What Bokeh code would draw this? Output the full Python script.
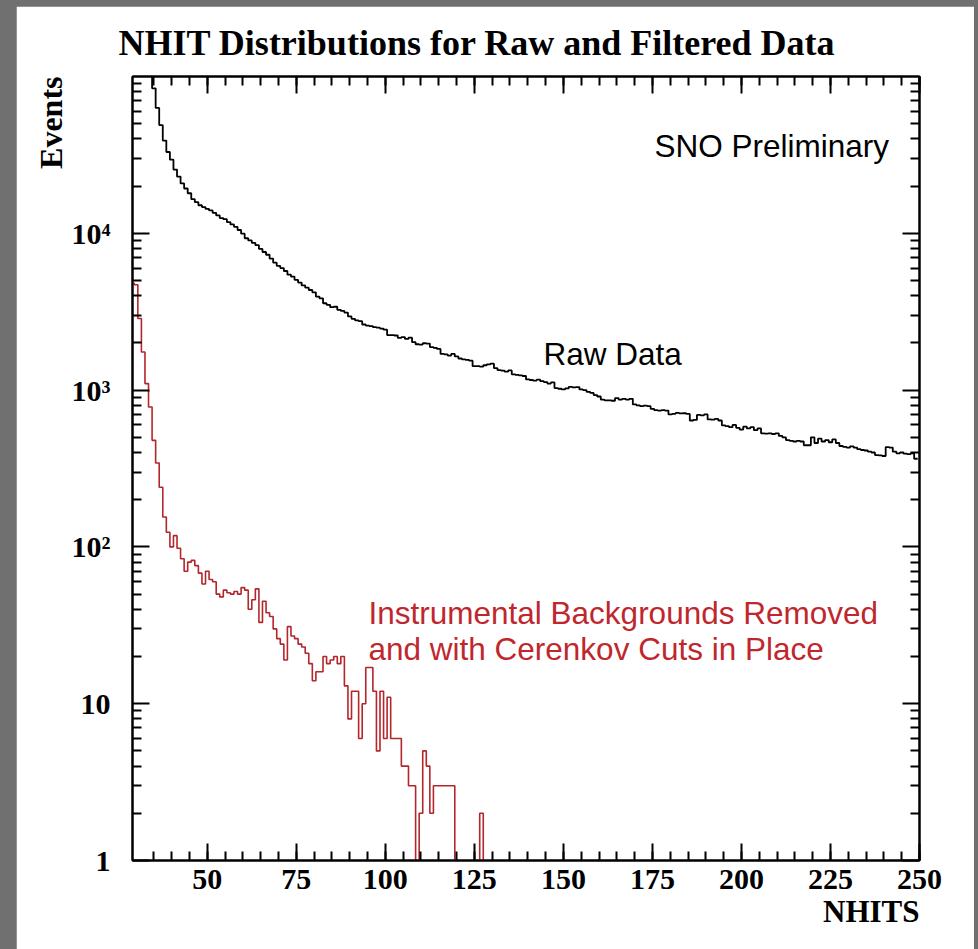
from bokeh.plotting import figure
from bokeh.models import Range1d, FixedTicker, LinearAxis, LogAxis, Label, Title, CustomJSTickFormatter
from bokeh.layouts import column
from bokeh.embed import file_html
from bokeh.resources import INLINE

# ---------------- data ----------------
title_text = "NHIT Distributions for Raw and Filtered Data"
x_label = "NHITS"
y_label = "Events"
raw_label = "Raw Data"
stamp_label = "SNO Preliminary"
filt_label_1 = "Instrumental Backgrounds Removed"
filt_label_2 = "and with Cerenkov Cuts in Place"

# raw data: one bin per NHIT value, first bin centred on NHIT = 34
raw_first_bin = 34
raw_counts = [
    130000, 84000, 63000, 49000, 39000, 33000, 29500, 25500, 23000, 20800,   # 34-43
    19300, 18000, 16500, 15800, 15100, 14700, 14300, 14000, 13500, 13000,    # 44-53
    12500, 12300, 11800, 11400, 11000, 10500, 9950, 9300, 9000, 8700,        # 54-63
    8400, 7950, 7600, 7300, 6900, 6500, 6200, 6000, 5750, 5450,              # 64-73
    5300, 5050, 4850, 4650, 4500, 4350, 4200, 3950, 3850, 3580,              # 74-83
    3500, 3380, 3400, 3250, 3200, 3120, 2950, 2850, 2780, 2750,              # 84-93
    2620, 2580, 2560, 2520, 2500, 2470, 2430, 2240, 2240, 2230,              # 94-103
    2150, 2180, 2120, 2160, 2020, 1960, 1950, 1990, 1980, 1880,              # 104-113
    1860, 1830, 1700, 1690, 1660, 1700, 1640, 1590, 1570, 1560,              # 114-123
    1540, 1420, 1420, 1410, 1440, 1460, 1475, 1380, 1340, 1330,              # 124-133
    1310, 1335, 1260, 1250, 1240, 1230, 1170, 1160, 1150, 1165,              # 134-143
    1140, 1125, 1100, 1120, 1030, 1020, 1010, 1025, 1050, 1040,              # 144-153
    1045, 1010, 1000, 975, 960, 930, 910, 870, 860, 860,                     # 154-163
    855, 890, 870, 880, 870, 880, 810, 800, 790, 795,                        # 164-173
    790, 760, 745, 740, 745, 740, 700, 705, 715, 710,                        # 174-183
    712, 705, 640, 645, 695, 690, 700, 650, 648, 655,                        # 184-193
    640, 595, 590, 580, 600, 575, 560, 585, 570, 580,                        # 194-203
    555, 570, 530, 528, 530, 525, 530, 510, 500, 480,                        # 204-213
    475, 470, 475, 470, 445, 445, 500, 460, 490, 470,                        # 214-223
    480, 465, 485, 460, 440, 435, 430, 438, 430, 420,                        # 224-233
    415, 412, 405, 400, 385, 383, 380, 433, 430, 405,                        # 234-243
    395, 400, 393, 390, 395, 365,                                            # 244-249
]

# filtered data: first bin centred on NHIT = 29
filt_first_bin = 29
filt_counts = [
    4800, 4700, 2860, 1750, 1100, 780, 478, 343, 240, 155,                   # 29-38
    124, 100, 118, 98, 84, 70, 80, 82, 76, 68,                               # 39-48
    58, 70, 62, 60, 50, 48, 53, 51, 50, 52,                                  # 49-58
    50, 55, 53, 40, 46, 54, 33, 45, 38, 36,                                  # 59-68
    30, 26, 24, 19, 31, 27, 26, 24, 23, 21,                                  # 69-78
    18, 14, 16, 16, 20, 18, 19, 20, 18, 20,                                  # 79-88
    13, 8, 12, 12, 6, 10, 17, 17, 12, 5,                                     # 89-98
    12, 6, 11, 6, 6, 6, 4, 4, 3, 3,                                          # 99-108
    0, 2, 5, 4, 2, 3, 3, 3, 3, 3,                                            # 109-118
    3, 0, 0, 0, 0, 0, 0, 0, 2, 0,                                            # 119-128
]

x_major = [50, 75, 100, 125, 150, 175, 200, 225, 250]
y_major = [1, 10, 100, 1000, 10000]
y_major_text = ["1", "10", "10\u00b2", "10\u00b3", "10\u2074"]

# ---------------- style ----------------
RED_LINE = "#b3262b"
RED_TEXT = "#c0272d"
GREY = "#707070"
SERIF = "Liberation Serif"
SANS = "Liberation Sans"
Y_FLOOR = 0.05  # empty bins are drawn below the visible range


def step_arrays(first_bin, counts):
    edges = [first_bin - 0.5 + i for i in range(len(counts) + 1)]
    ys = [max(c, Y_FLOOR) for c in counts]
    ys = ys + [ys[-1]]
    return edges, ys


p = figure(
    width=958, height=943,
    x_range=Range1d(29, 250), y_range=Range1d(1, 1e5),
    y_axis_type="log",
    output_backend="svg", toolbar_location=None,
    min_border_left=116, min_border_right=55,
    min_border_top=70, min_border_bottom=89,
    background_fill_color="white", border_fill_color="white",
)
p.xgrid.visible = False
p.ygrid.visible = False
p.outline_line_color = "black"
p.outline_line_width = 2

# main title
p.title.text = title_text
p.title.align = "left"
p.title.offset = -14
p.title.text_font = SERIF
p.title.text_font_style = "bold"
p.title.text_font_size = "36px"
p.title.text_line_height = 1.0
p.title.text_color = "black"
p.title.standoff = 27

rx, ry = step_arrays(raw_first_bin, raw_counts)
fx, fy = step_arrays(filt_first_bin, filt_counts)
p.step(rx, ry, mode="after", line_color="black", line_width=1.8)
p.step(fx, fy, mode="after", line_color=RED_LINE, line_width=1.6)

x_minor = [v for v in range(35, 251, 5)]
y_minor = [k * 10 ** d for d in range(5) for k in range(2, 10)]

bottom_axis = p.below[0]
left_axis = p.left[0]
top_axis = LinearAxis()
right_axis = LogAxis()
p.add_layout(top_axis, "above")
p.add_layout(right_axis, "right")

for ax in [bottom_axis, top_axis]:
    ax.ticker = FixedTicker(ticks=x_major, minor_ticks=x_minor)
for ax in [left_axis, right_axis]:
    ax.ticker = FixedTicker(ticks=y_major, minor_ticks=y_minor)

for ax in [bottom_axis, top_axis, left_axis, right_axis]:
    ax.major_tick_in = 17
    ax.major_tick_out = 0
    ax.minor_tick_in = 9
    ax.minor_tick_out = 0
    ax.axis_line_width = 2
    ax.major_tick_line_width = 2
    ax.minor_tick_line_width = 2
    ax.major_label_text_font = SERIF
    ax.major_label_text_font_style = "bold"
    ax.major_label_text_font_size = "30px"
    ax.major_label_text_color = "black"

for ax in [top_axis, right_axis]:
    ax.formatter = CustomJSTickFormatter(code="return ''")
    ax.major_label_standoff = 0

bottom_axis.major_label_standoff = 9
left_axis.major_label_standoff = 22
left_axis.major_label_overrides = {v: t for v, t in zip(y_major, y_major_text)}

# axis titles, placed at the outer ends of the axes
p.add_layout(Title(text=y_label, align="right", text_font=SERIF, text_font_style="bold",
                   text_font_size="32px", text_color="black", standoff=0), "left")
p.add_layout(Title(text=x_label, align="right", text_font=SERIF, text_font_style="bold",
                   text_font_size="31px", text_color="black", standoff=0), "below")

# ---------------- texts inside the frame ----------------
def add_text(text, x, y, font, size, color="black"):
    p.add_layout(Label(
        x=x, y=y, x_units="screen", y_units="screen", text=text,
        text_font=font, text_font_size=size,
        text_color=color, text_align="left", text_baseline="alphabetic",
    ))

add_text(stamp_label, 522, 715, SANS, "31.5px")
add_text(raw_label, 411, 507, SANS, "31.5px")
add_text(filt_label_1, 236, 248, SANS, "31.5px", color=RED_TEXT)
add_text(filt_label_2, 236, 212, SANS, "31.5px", color=RED_TEXT)

layout = column(p, styles={"background-color": GREY, "padding": "6px 4px 0px 16px"})

open("out.html", "w").write(file_html(layout, INLINE))
